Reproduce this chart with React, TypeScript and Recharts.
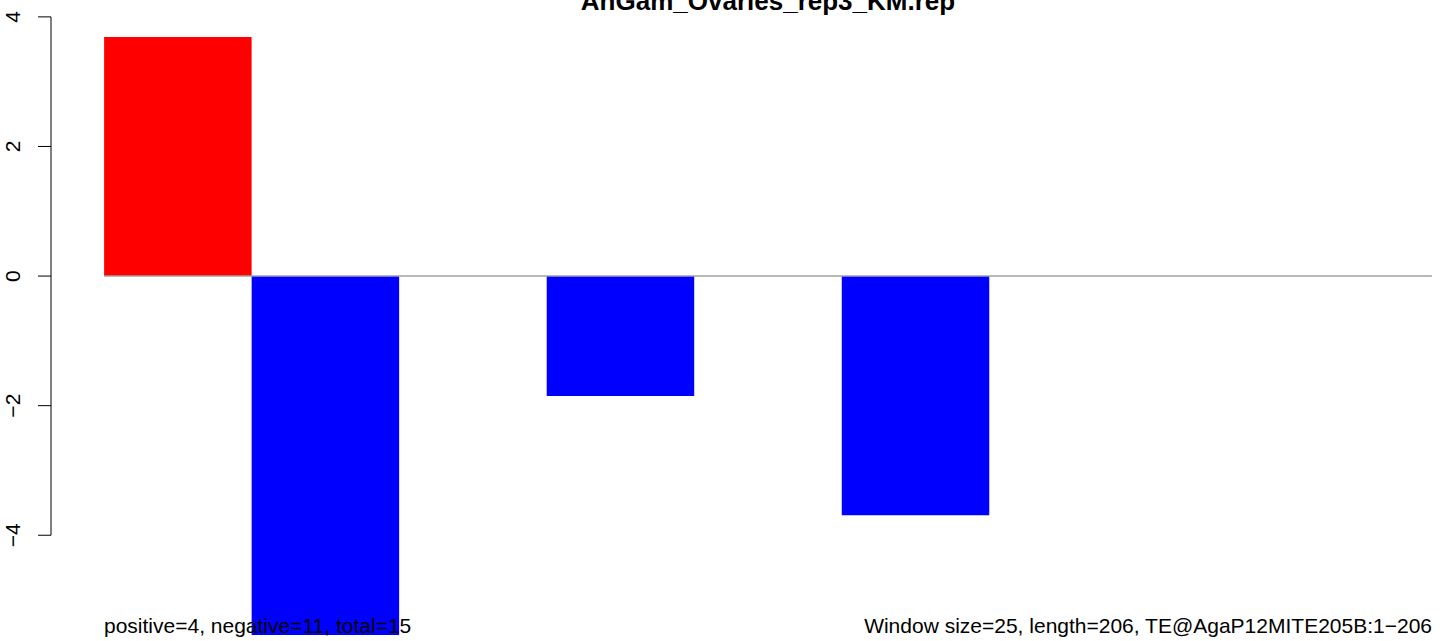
import React from 'react';
import { BarChart, Bar, XAxis, YAxis, Cell, ReferenceLine } from 'recharts';

const windows = [1, 2, 3, 4, 5, 6, 7, 8, 9];
const values = [3.69, -5.54, 0, -1.85, 0, -3.69, 0, 0, 0];
const yTicks = [-4, -2, 0, 2, 4];
const title = 'AnGam_Ovaries_rep3_KM.rep';
const footerLeft = 'positive=4, negative=11, total=15';
const footerRight = 'Window size=25, length=206, TE@AgaP12MITE205B:1\u2212206';

const data = windows.map((w, i) => ({ x: w - 0.5, v: values[i] }));

const FONT = '"Liberation Sans", Arial, Helvetica, sans-serif';

const YTick = (props: any) => {
  const { y, payload } = props;
  const v = payload.value as number;
  const label = v < 0 ? '\u2212' + Math.abs(v) : String(v);
  return (
    <text
      x={20}
      y={y}
      transform={`rotate(-90 20 ${y})`}
      textAnchor="middle"
      fontSize={21}
      fontFamily={FONT}
      fill="#000"
    >
      {label}
    </text>
  );
};

export default function App() {
  return (
    <div
      style={{
        position: 'absolute',
        left: 0,
        top: 0,
        width: 1444,
        height: 641,
        overflow: 'hidden',
        background: '#fff',
      }}
    >
      <BarChart
        width={1485}
        height={659}
        data={data}
        margin={{ top: 13, right: 0, bottom: 0, left: 0 }}
        barCategoryGap={0}
      >
        <XAxis
          type="number"
          dataKey="x"
          domain={[-0.36, 9.36]}
          allowDataOverflow
          hide
        />
        <YAxis
          type="number"
          domain={[-5.91, 4.06]}
          allowDataOverflow
          ticks={yTicks}
          width={51}
          axisLine={false}
          tickSize={13}
          tickLine={{ stroke: '#000', strokeWidth: 1 }}
          tick={<YTick />}
          interval={0}
        />
        <Bar dataKey="v" barSize={147.5} isAnimationActive={false}>
          {data.map((d, i) => (
            <Cell key={i} fill={d.v >= 0 ? '#ff0000' : '#0000ff'} />
          ))}
        </Bar>
        <ReferenceLine
          segment={[{ x: 0, y: 0 }, { x: 9, y: 0 }]}
          stroke="#a0a0a0"
          strokeWidth={1.5}
          ifOverflow="visible"
        />
        <ReferenceLine
          segment={[{ x: -0.36, y: -4 }, { x: -0.36, y: 4 }]}
          stroke="#000"
          strokeWidth={1}
          ifOverflow="visible"
        />
      </BarChart>
      <svg
        width={1444}
        height={641}
        style={{ position: 'absolute', left: 0, top: 0, pointerEvents: 'none' }}
      >
        <text
          x={768}
          y={10}
          textAnchor="middle"
          fontSize={26}
          fontWeight="bold"
          fontFamily={FONT}
          fill="#000"
        >
          {title}
        </text>
        <text x={104} y={633} textAnchor="start" fontSize={21} fontFamily={FONT} fill="#000">
          {footerLeft}
        </text>
        <text x={1432} y={633} textAnchor="end" fontSize={21} fontFamily={FONT} fill="#000">
          {footerRight}
        </text>
      </svg>
    </div>
  );
}
